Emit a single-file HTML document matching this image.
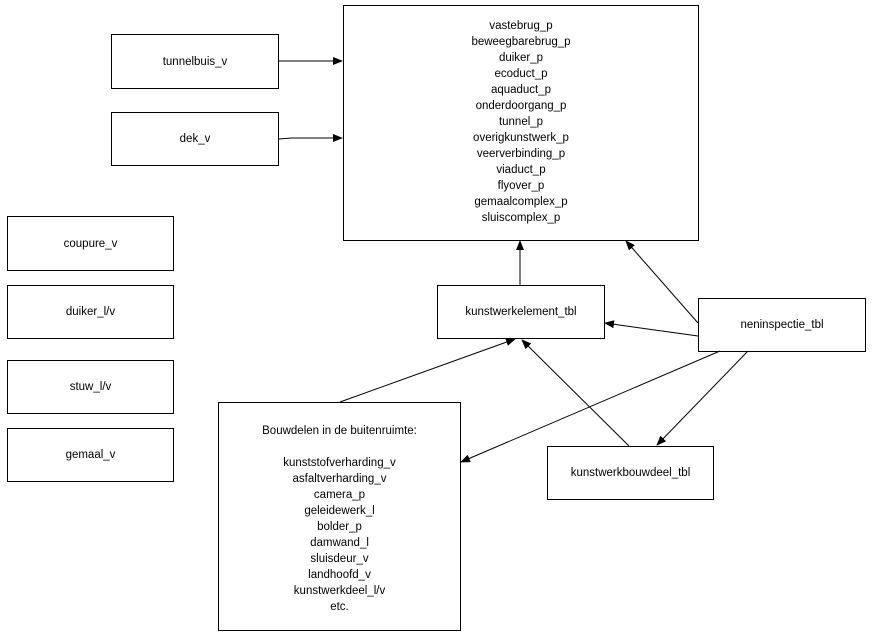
<!DOCTYPE html>
<html><head><style>
body{margin:0;background:#fff;width:872px;height:635px;position:relative;overflow:hidden;font-family:"Liberation Sans",sans-serif;font-size:11.5px;color:#000}
.b{position:absolute;border:1px solid #000;box-sizing:border-box;display:flex;align-items:center;justify-content:center;text-align:center;background:#fff}
.t{position:absolute;text-align:center;line-height:16px}
svg{position:absolute;left:0;top:0}
</style></head><body>
<div class="b" style="left:343px;top:5px;width:356px;height:236px"></div>
<div class="t" style="left:343px;top:18px;width:356px">vastebrug_p<br>beweegbarebrug_p<br>duiker_p<br>ecoduct_p<br>aquaduct_p<br>onderdoorgang_p<br>tunnel_p<br>overigkunstwerk_p<br>veerverbinding_p<br>viaduct_p<br>flyover_p<br>gemaalcomplex_p<br>sluiscomplex_p</div>
<div class="b" style="left:111px;top:34px;width:168px;height:55px">tunnelbuis_v</div>
<div class="b" style="left:111px;top:112px;width:168px;height:54px">dek_v</div>
<div class="b" style="left:7px;top:216px;width:167px;height:55px">coupure_v</div>
<div class="b" style="left:7px;top:285px;width:167px;height:54px">duiker_l/v</div>
<div class="b" style="left:7px;top:360px;width:167px;height:54px">stuw_l/v</div>
<div class="b" style="left:7px;top:428px;width:167px;height:54px">gemaal_v</div>
<div class="b" style="left:437px;top:285px;width:168px;height:54px">kunstwerkelement_tbl</div>
<div class="b" style="left:698px;top:298px;width:168px;height:54px">neninspectie_tbl</div>
<div class="b" style="left:547px;top:446px;width:167px;height:54px">kunstwerkbouwdeel_tbl</div>
<div class="b" style="left:218px;top:402px;width:243px;height:229px"></div>
<div class="t" style="left:218px;top:423px;width:243px">Bouwdelen in de buitenruimte:<br><br>kunststofverharding_v<br>asfaltverharding_v<br>camera_p<br>geleidewerk_l<br>bolder_p<br>damwand_l<br>sluisdeur_v<br>landhoofd_v<br>kunstwerkdeel_l/v<br>etc.</div>
<svg width="872" height="635">
<defs><marker id="a" markerWidth="10" markerHeight="8" refX="9" refY="4" orient="auto" markerUnits="userSpaceOnUse"><path d="M0,0L10,4L0,8z" fill="#000"/></marker></defs>
<g stroke="#000" stroke-width="1" fill="none" marker-end="url(#a)">
<line x1="279" y1="61" x2="342" y2="61"/>
<polyline points="279,139 292,138 342,138"/>
<line x1="520" y1="285" x2="520" y2="241"/>
<line x1="698" y1="323" x2="626" y2="241"/>
<line x1="698" y1="336" x2="605" y2="323"/>
<line x1="720" y1="351" x2="461" y2="462"/>
<line x1="748" y1="351" x2="657" y2="445"/>
<line x1="340" y1="402" x2="515" y2="339"/>
<line x1="629" y1="446" x2="522" y2="340"/>
</g>
</svg>
</body></html>
